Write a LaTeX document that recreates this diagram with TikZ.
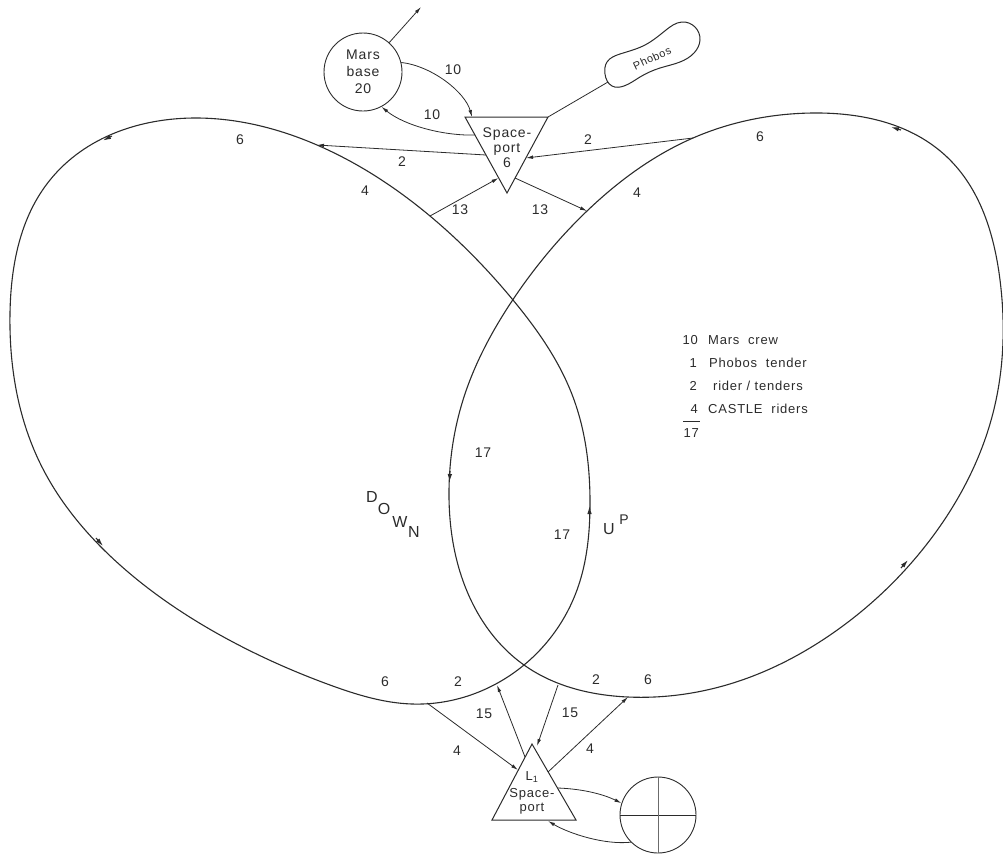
\documentclass[tikz,border=0pt]{standalone}
\usepackage{fontspec}
\setmainfont{Liberation Sans}[LetterSpace=6]
\usetikzlibrary{arrows.meta,hobby}
\definecolor{ink}{HTML}{2B2B2B}
\begin{document}
\begin{tikzpicture}[x=1pt,y=-1pt,
  orbit/.style={draw=ink,line width=1.1pt},
  conn/.style={draw=ink,line width=0.8pt,-{Latex[length=7pt,width=3.6pt]}},
  plain/.style={draw=ink,line width=0.8pt},
  looptip/.style={draw=ink,line width=1.1pt,-{Latex[length=8pt,width=4.5pt]}},
  num/.style={inner sep=0pt,text=ink,font=\fontsize{14}{16}\selectfont},
  leg/.style={inner sep=0pt,text=ink,font=\fontsize{13}{15}\selectfont},
  big/.style={inner sep=0pt,text=ink,font=\fontsize{16}{18}\selectfont},
  station/.style={circle,draw=ink,line width=0.9pt,inner sep=0pt}
]
\useasboundingbox (0,0) rectangle (1003,860);

% ---------- orbits ----------
\draw[orbit] plot[closed hobby] coordinates {
 (197,118) (50,180) (10,313) (40,463) (120,565) (220,635) (330,685) (412,704)
 (524,665) (577,590) (590,505) (573,397) (513,300) (430,216) (317,145)};
\draw[orbit] plot[closed hobby] coordinates {
 (813,113) (693,138) (587,211) (512,301) (463,400) (449,490) (458,565)
 (524,665) (628,697) (733,683) (833,633) (930,540) (993,413) (1000,280)
 (947,157)};

% arrow marks on the orbits
\draw[looptip] (112,136) -- (103,140.5);
\draw[looptip] (96,538) -- (103,546);
\draw[looptip] (450,471) -- (449.5,482);
\draw[looptip] (589.5,517) -- (589.5,506);
\draw[looptip] (901,130) -- (891,127);
\draw[looptip] (901,568) -- (908,560);

% ---------- points on orbits ----------
\coordinate (Ljoin2) at (317,145);
\coordinate (Lleave13) at (430,216);
\coordinate (Lleave4) at (427,703);
\coordinate (Ljoin15) at (497,685);
\coordinate (Rleave2) at (693,138);
\coordinate (Rjoin13) at (587,211);
\coordinate (Rleave15) at (558,685);
\coordinate (Rjoin4) at (628,697);

% ---------- Mars spaceport ----------
\coordinate (spTL) at (465,117);
\coordinate (spTR) at (548,117);
\coordinate (spB) at (507,193);
\draw[plain,line width=1pt] (spTL) -- (spTR) -- (spB) -- cycle;
\node[num,align=center,font=\fontsize{14}{15}\selectfont] (spM) at (507,148) {Space-\\port\\6};
\coordinate (spTopIn) at (472,117);
\coordinate (spLout10) at (475,135);
\coordinate (spLout2) at (486,155);
\coordinate (spLin13) at (498.5,178);
\coordinate (spRin2) at (526,158);
\coordinate (spRout13) at (515,178);

% ---------- Mars base ----------
\node[station,minimum size=78pt,align=center,text=ink,font=\fontsize{14}{17}\selectfont] (mars) at (363,72) {Mars\\base\\20};
\coordinate (marsout) at (421,7);
\draw[conn] (mars) -- (marsout);
\draw[conn] (mars.14) .. controls (432,66) and (465,92) .. (spTopIn);
\draw[conn] (spLout10) .. controls (445,136) and (405,126) .. (mars.-62);
\node[num] (t10a) at (453,70) {10};
\node[num] (t10b) at (432,115) {10};

% ---------- Phobos ----------
\draw[plain,line width=1pt] plot[closed hobby] coordinates {
 (605,74) (612,86) (624,86) (640,77) (660,68) (680,62) (694,53) (700,40)
 (695,27) (682,22) (666,30) (645,45) (620,54) (607,62)};
\node[inner sep=0pt,text=ink,font=\fontsize{11}{13}\selectfont,rotate=25] (phobos) at (652,58) {Phobos};
\coordinate (phobosTail) at (608,82);
\draw[plain] (phobosTail) -- (spTR);

% ---------- connectors at Mars spaceport ----------
\draw[conn] (spLout2) -- (Ljoin2);
\draw[conn] (Rleave2) -- (spRin2);
\draw[conn] (Lleave13) -- (spLin13);
\draw[conn] (spRout13) -- (Rjoin13);
\node[num] (t2a) at (402,162) {2};
\node[num] (t2b) at (588,140) {2};
\node[num] (t13a) at (460,210) {13};
\node[num] (t13b) at (540,210) {13};

% orbit labels top
\node[num] (o6a) at (240,140) {6};
\node[num] (o4a) at (365,191) {4};
\node[num] (o6b) at (760,137) {6};
\node[num] (o4b) at (637,193) {4};

% ---------- L1 spaceport ----------
\coordinate (l1A) at (532,744);
\coordinate (l1L) at (492,820);
\coordinate (l1R) at (576,820);
\draw[plain,line width=1pt] (l1A) -- (l1R) -- (l1L) -- cycle;
\node[num,align=center,font=\fontsize{13}{14.5}\selectfont] (l1) at (532,793) {L\textsubscript{1}\\[2pt]Space-\\port};
\coordinate (l1in4) at (518,770);
\coordinate (l1out15) at (525,757);
\coordinate (l1in15) at (537,746);
\coordinate (l1out4) at (548,772);
\coordinate (l1outE) at (558,788);
\coordinate (l1inE) at (548,821);

\draw[conn] (Lleave4) -- (l1in4);
\draw[conn] (l1out15) -- (Ljoin15);
\draw[conn] (Rleave15) -- (l1in15);
\draw[conn] (l1out4) -- (Rjoin4);

\node[num] (b6a) at (385,682) {6};
\node[num] (b2a) at (458,682) {2};
\node[num] (b2b) at (596,680) {2};
\node[num] (b6b) at (648,680) {6};
\node[num] (b15a) at (484,714) {15};
\node[num] (b4a) at (457,751) {4};
\node[num] (b15b) at (570,713) {15};
\node[num] (b4b) at (590,749) {4};

% ---------- Earth ----------
\node[station,minimum size=76pt] (earth) at (658,815) {};
\draw[plain] (earth.west) -- (earth.east);
\draw[draw=ink!70,line width=0.45pt] (earth.north) -- (earth.south);
\draw[conn] (l1outE) .. controls (585,789) and (605,795) .. (earth.162);
\draw[conn] (earth.225) .. controls (605,845) and (570,834) .. (l1inE);

% ---------- inner labels ----------
\node[num] (i17a) at (483,453) {17};
\node[num] (i17b) at (562,535) {17};
\node[big] (dD) at (372,497) {D};
\node[big] (dO) at (384,509) {O};
\node[big] (dW) at (400,522) {W};
\node[big] (dN) at (414,532) {N};
\node[big] (uU) at (609,529) {U};
\node[big,font=\fontsize{14}{16}\selectfont] (uP) at (624,520) {P};

% ---------- legend ----------
\node[leg,anchor=base east] (n1) at (698,344) {10};
\node[leg,anchor=base west] (w1) at (708,344) {Mars\ \ crew};
\node[leg,anchor=base east] (n2) at (697,367) {1};
\node[leg,anchor=base west] (w2) at (709,367) {Phobos\ \ tender};
\node[leg,anchor=base east] (n3) at (697,390) {2};
\node[leg,anchor=base west] (w3) at (713,390) {rider / tenders};
\node[leg,anchor=base east] (n4) at (698,413) {4};
\node[leg,anchor=base west] (w4) at (708,413) {CASTLE\ \ riders};
\coordinate (ruleL) at (683,421);
\coordinate (ruleR) at (700,421);
\draw[plain] (ruleL) -- (ruleR);
\node[leg,anchor=base east] (n5) at (699,437) {17};
\end{tikzpicture}
\end{document}
